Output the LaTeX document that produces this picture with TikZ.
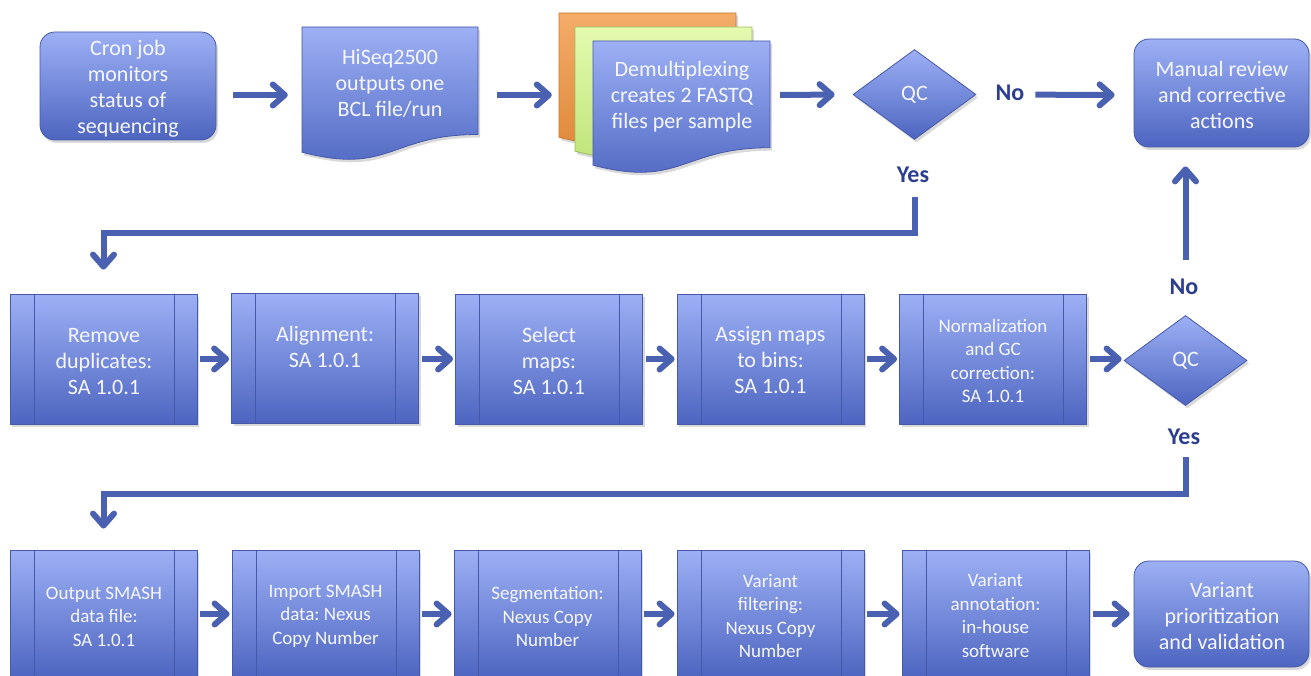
\documentclass[tikz,border=0pt]{standalone}
\usepackage{fontspec}
\setmainfont{Carlito}
\frenchspacing
\usetikzlibrary{shapes.geometric,arrows.meta,shadows,calc}
\definecolor{boxtop}{HTML}{9DB0F5}
\definecolor{boxbot}{HTML}{4D65C0}
\definecolor{boxline}{HTML}{4658A8}
\definecolor{arrcol}{HTML}{4A60B0}
\definecolor{labcol}{HTML}{2C3E8F}
\definecolor{ortop}{HTML}{F4AC68}
\definecolor{orbot}{HTML}{DE8638}
\definecolor{orline}{HTML}{C8792F}
\definecolor{grtop}{HTML}{E4FAB0}
\definecolor{grbot}{HTML}{BCE274}
\definecolor{grline}{HTML}{9CBE5C}
\definecolor{txtcol}{HTML}{F6F7FF}
\tikzset{
  boxfill/.style={top color=boxtop, bottom color=boxbot, draw=boxline, line width=0.8pt},
  shadowed/.style={drop shadow={opacity=0.3, shadow xshift=2pt, shadow yshift=-3pt}},
  rbox/.style={rectangle, rounded corners=15pt, boxfill, shadowed, inner sep=0pt},
  procbox/.style={rectangle, boxfill, shadowed, inner sep=0pt,
    minimum width=187pt, minimum height=130pt,
    path picture={
      \draw[boxline, line width=0.8pt]
        ([xshift=24pt]path picture bounding box.north west) -- ([xshift=24pt]path picture bounding box.south west)
        ([xshift=-23pt]path picture bounding box.north east) -- ([xshift=-23pt]path picture bounding box.south east);}},
  qcdia/.style={diamond, boxfill, shadowed, inner sep=0pt, minimum width=123pt, minimum height=90pt,
    text=txtcol, font=\fontsize{22pt}{26pt}\selectfont},
  txt/.style={text=txtcol, align=center, inner sep=0pt, font=\fontsize{22pt}{26pt}\selectfont},
  smalltxt/.style={txt, font=\fontsize{19pt}{23.5pt}\selectfont},
  lab/.style={text=labcol, inner sep=0pt, font=\fontsize{24pt}{28pt}\selectfont\bfseries},
  arr/.style={draw=arrcol, line width=6pt, -{Straight Barb[length=12pt,width=21pt,round]}},
}
\begin{document}
\begin{tikzpicture}[x=1pt,y=-1pt]
\useasboundingbox (0,0) rectangle (1311,676);

% ---------- row 1 ----------
\node[rbox, minimum width=176pt, minimum height=108pt] (cron) at (128,86) {};
\node[txt] (tcron) at (128,89) {Cron job\\monitors\\status of\\sequencing};

% HiSeq document shape
\path[boxfill, shadowed] (302,27) -- (478,27) -- (478,134.5)
  .. controls (390,134.5) and (390,175.3) .. (302,152.2) -- cycle;
\node[txt, minimum width=176pt] (hiseq) at (390,83) {HiSeq2500\\outputs one\\BCL file/run};

% stacked documents
\path[top color=ortop, bottom color=orbot, draw=orline, line width=0.8pt, shadowed]
  (559,13) -- (736,13) -- (736,119.7) .. controls (647.5,119.7) and (647.5,160.2) .. (559,137.2) -- cycle;
\path[top color=grtop, bottom color=grbot, draw=grline, line width=0.8pt, shadowed]
  (575,27) -- (752,27) -- (752,133.7) .. controls (663.5,133.7) and (663.5,174.2) .. (575,151.2) -- cycle;
\path[boxfill, shadowed]
  (593,41) -- (770,41) -- (770,147.7) .. controls (681.5,147.7) and (681.5,188.2) .. (593,165.2) -- cycle;
\node[inner sep=0pt, minimum width=211pt, minimum height=150pt] (stack) at (664.5,90) {};
\node[txt] (demux) at (682,97) {Demultiplexing\\creates 2 FASTQ\\files per sample};

\node[qcdia] (qc1) at (914.5,94.5) {QC};
\node[rbox, minimum width=175pt, minimum height=108pt] (manual) at (1221.5,93) {};
\node[txt] (tmanual) at (1222,95) {Manual review\\and corrective\\actions};

\node[lab] (no1) at (1010,93) {No};
\node[lab] (yes1) at (913,175) {Yes};

% ---------- row 2 ----------
\node[procbox] (b1) at (103.5,359) {};
\node[procbox] (b2) at (325,358) {};
\node[procbox] (b3) at (549,359) {};
\node[procbox] (b4) at (770.5,359) {};
\node[procbox] (b5) at (993,359) {};
\node[txt] (tb1) at (104,362) {Remove\\duplicates:\\SA 1.0.1};
\node[txt] (tb2) at (325,346.5) {Alignment:\\SA 1.0.1};
\node[txt] (tb3) at (549,361) {Select\\maps:\\SA 1.0.1};
\node[txt] (tb4) at (770.5,360) {Assign maps\\to bins:\\SA 1.0.1};
\node[smalltxt] (tb5) at (993,361) {Normalization\\and GC\\correction:\\SA 1.0.1};

\node[qcdia] (qc2) at (1185.5,360.5) {QC};
\node[lab] (no2) at (1184,287) {No};
\node[lab] (yes2) at (1184,437) {Yes};

% ---------- row 3 ----------
\node[procbox, minimum height=128pt] (c1) at (103.5,614) {};
\node[procbox, minimum height=128pt] (c2) at (325.5,614) {};
\node[procbox, minimum height=128pt] (c3) at (547.5,614) {};
\node[procbox, minimum height=128pt] (c4) at (770.5,614) {};
\node[procbox, minimum height=128pt] (c5) at (995.5,614) {};
\node[rbox, minimum width=175pt, minimum height=106pt] (final) at (1221.5,614) {};
\node[smalltxt] (tc1) at (104,616.5) {Output SMASH\\data file:\\SA 1.0.1};
\node[smalltxt] (tc2) at (325.5,616) {Import SMASH\\data: Nexus\\Copy Number};
\node[smalltxt] (tc3) at (547.5,616.5) {Segmentation:\\Nexus Copy\\Number};
\node[smalltxt] (tc4) at (770.5,616) {Variant\\filtering:\\Nexus Copy\\Number};
\node[smalltxt] (tc5) at (995.5,615.5) {Variant\\annotation:\\in-house\\software};
\node[txt] (tfinal) at (1222,616) {Variant\\prioritization\\and validation};

% ---------- connectors ----------
\coordinate (r1) at (0,95);
\coordinate (t1) at (0,233);
\coordinate (t2) at (0,494);
\draw[arr, shorten <=17pt, shorten >=14pt] (cron.east |- r1) -- (hiseq.west |- r1);
\draw[arr, shorten <=19pt, shorten >=7pt] (hiseq.east |- r1) -- (stack.west |- r1);
\draw[arr, shorten <=10pt, shorten >=18pt] (stack.east |- r1) -- (qc1.west);
\draw[arr, shorten <=59pt, shorten >=19pt] (qc1.east) -- (manual.west |- r1);
\draw[arr, shorten <=57pt, shorten >=24pt] (qc1.south) -- (qc1.south |- t1) -| (b1.north);

\draw[arr, shorten <=3pt, shorten >=2pt] (b1.east) -- (b2.west |- b1.east);
\draw[arr, shorten <=3pt, shorten >=2pt] (b2.east |- b1.east) -- (b3.west);
\draw[arr, shorten <=3pt, shorten >=2pt] (b3.east) -- (b4.west);
\draw[arr, shorten <=3pt, shorten >=2pt] (b4.east) -- (b5.west);
\draw[arr, shorten <=3pt, shorten >=2pt] (b5.east) -- (qc2.west |- b5.east);
\draw[arr, shorten <=55pt, shorten >=19pt] (qc2.north) -- (qc2.north |- manual.south);
\draw[arr, shorten <=51pt, shorten >=21pt] (qc2.south) -- (qc2.south |- t2) -| (c1.north);

\draw[arr, shorten <=3pt, shorten >=2pt] (c1.east) -- (c2.west);
\draw[arr, shorten <=3pt, shorten >=2pt] (c2.east) -- (c3.west);
\draw[arr, shorten <=3pt, shorten >=2pt] (c3.east) -- (c4.west);
\draw[arr, shorten <=3pt, shorten >=2pt] (c4.east) -- (c5.west);
\draw[arr, shorten <=4pt, shorten >=4pt] (c5.east) -- (final.west);
\end{tikzpicture}
\end{document}
